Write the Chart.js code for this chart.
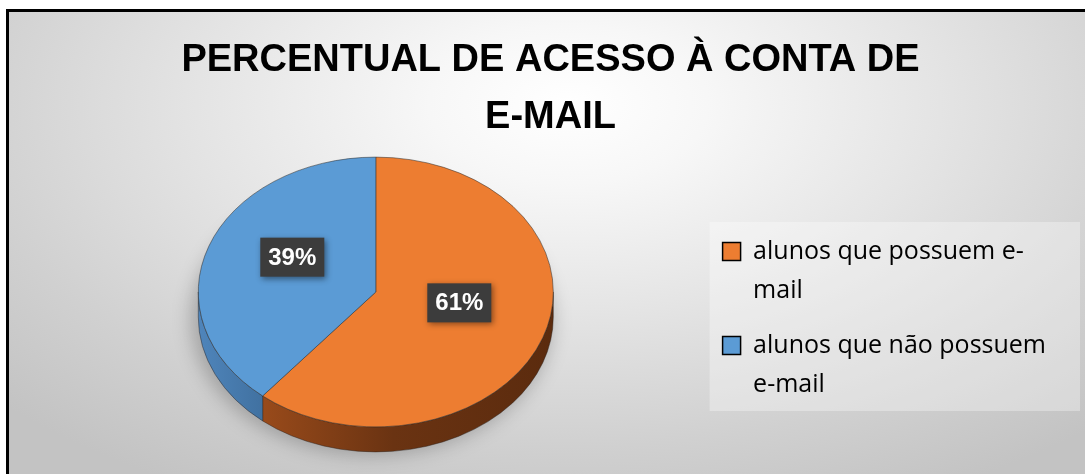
<!DOCTYPE html>
<html>
<head>
<meta charset="utf-8">
<script src="https://cdn.jsdelivr.net/npm/chart.js@4/dist/chart.umd.min.js"></script>
<style>
  html, body { margin: 0; padding: 0; background: #ffffff; width: 1087px; height: 474px; overflow: hidden; }
  #frame {
    position: absolute; left: 6px; top: 9px; width: 1079px; height: 465px;
    box-sizing: border-box; border-top: 3px solid #000; border-left: 3px solid #000;
    background: radial-gradient(ellipse 72% 95% at 52% 20%, #ffffff 0%, #f7f7f7 18%, #e4e4e4 48%, #d0d0d0 78%, #c3c3c3 100%);
  }
  #wrap { position: absolute; left: 0; top: 0; width: 1087px; height: 474px; }
</style>
</head>
<body>
<div id="frame"></div>
<div id="wrap"><canvas id="c" width="1087" height="474"></canvas></div>
<script>
// ---- data ----
const categories = ['alunos que possuem e-mail', 'alunos que não possuem e-mail'];
const legendLines = [['alunos que possuem e-', 'mail'], ['alunos que não possuem', 'e-mail']];
const percentValues = [61, 39];
const titleLines = ['PERCENTUAL DE ACESSO À CONTA DE', 'E-MAIL'];
const sliceColors = ['#ED7D31', '#5B9BD5'];
const sideStops = [
  ['#b35a1f', '#96491a', '#6a3312', '#5b2b0e'],
  ['#4f85bb', '#3f6f9e', '#35608a', '#2f5575']
];

// ---- 3D look ----
const TILT = 0.76;
const DEPTH = 25;
const LABEL_LIFT = 12;

const pie3d = {
  id: 'pie3d',
  beforeDraw(chart) {
    const lg = chart.legend;
    if (!lg || !lg.legendHitBoxes || !lg.legendHitBoxes.length) return;
    const hb = lg.legendHitBoxes;
    const ctx = chart.ctx;
    const top = hb[0].top - 17;
    const bottom = hb[hb.length - 1].top + hb[hb.length - 1].height;
    ctx.save();
    ctx.fillStyle = 'rgba(255,255,255,0.32)';
    ctx.fillRect(lg.left + 3, top, 1080 - (lg.left + 3), bottom - top);
    ctx.restore();
  },
  beforeDatasetsDraw(chart) {
    const ctx = chart.ctx;
    const arcs = chart.getDatasetMeta(0).data;
    const cx = arcs[0].x, cy = arcs[0].y, r = arcs[0].outerRadius;
    const ry = r * TILT;
    // soft shadow
    ctx.save();
    ctx.filter = 'blur(9px)';
    ctx.fillStyle = 'rgba(0,0,0,0.22)';
    ctx.beginPath();
    ctx.ellipse(cx - 4, cy + DEPTH + 2, r + 4, ry + 2, 0, 0, Math.PI * 2);
    ctx.fill();
    ctx.restore();
    // side walls
    arcs.forEach((arc, i) => {
      const a0 = arc.startAngle, a1 = arc.endAngle;
      for (let k = -1; k <= 1; k++) {
        const s = Math.max(a0, k * 2 * Math.PI);
        const e = Math.min(a1, k * 2 * Math.PI + Math.PI);
        if (e <= s) continue;
        const g = ctx.createLinearGradient(cx - r, 0, cx + r, 0);
        const st = sideStops[i];
        g.addColorStop(0, st[0]); g.addColorStop(0.2, st[1]); g.addColorStop(0.55, st[2]); g.addColorStop(1, st[3]);
        ctx.save();
        ctx.beginPath();
        ctx.ellipse(cx, cy, r, ry, 0, s, e, false);
        ctx.lineTo(cx + r * Math.cos(e), cy + ry * Math.sin(e) + DEPTH);
        ctx.ellipse(cx, cy + DEPTH, r, ry, 0, e, s, true);
        ctx.closePath();
        ctx.fillStyle = g;
        ctx.fill();
        ctx.strokeStyle = 'rgba(40,30,25,0.55)';
        ctx.lineWidth = 0.8;
        ctx.stroke();
        ctx.restore();
      }
    });
    // squash the top face
    ctx.save();
    ctx.translate(0, cy);
    ctx.scale(1, TILT);
    ctx.translate(0, -cy);
  },
  afterDatasetsDraw(chart) {
    const ctx = chart.ctx;
    ctx.restore();
    const arcs = chart.getDatasetMeta(0).data;
    arcs.forEach((arc, i) => {
      const mid = (arc.startAngle + arc.endAngle) / 2;
      const rr = arc.outerRadius * 0.5;
      const px = arc.x + rr * Math.cos(mid);
      const py = arc.y + rr * TILT * Math.sin(mid) - LABEL_LIFT;
      const txt = percentValues[i] + '%';
      const w = 64, h = 39;
      ctx.save();
      ctx.shadowColor = 'rgba(0,0,0,0.45)';
      ctx.shadowBlur = 6;
      ctx.shadowOffsetX = 2;
      ctx.shadowOffsetY = 2;
      ctx.fillStyle = '#3c3c3c';
      ctx.fillRect(px - w / 2, py - h / 2, w, h);
      ctx.restore();
      ctx.save();
      ctx.fillStyle = '#ffffff';
      ctx.font = 'bold 24px "Liberation Sans", Arial, sans-serif';
      ctx.textAlign = 'center';
      ctx.textBaseline = 'middle';
      ctx.fillText(txt, px, py + 1);
      ctx.restore();
    });
  }
};

const chart = new Chart(document.getElementById('c'), {
  type: 'pie',
  data: {
    labels: categories,
    datasets: [{
      data: percentValues,
      backgroundColor: sliceColors,
      borderColor: 'rgba(45,45,45,0.6)',
      borderWidth: 1,
      hoverOffset: 0,
      clip: false
    }]
  },
  options: {
    responsive: false,
    animation: false,
    devicePixelRatio: 1,
    layout: { padding: { top: 0, left: 45, right: 31, bottom: 4 } },
    plugins: {
      title: {
        display: true,
        text: titleLines,
        color: '#000000',
        font: { family: '"Liberation Sans", Arial, sans-serif', size: 38, weight: 'bold', lineHeight: '57px' },
        padding: { top: 32, bottom: -32 }
      },
      legend: {
        position: 'right',
        fullSize: false,
        align: 'center',
        title: { display: true, text: '', font: { size: 10, lineHeight: 1 }, padding: { top: 56, bottom: 0 } },
        labels: {
          boxWidth: 18,
          boxHeight: 18,
          padding: 16,
          color: '#000000',
          font: { family: '"Open Sans", sans-serif', size: 25, lineHeight: '39px' },
          generateLabels: (ch) => legendLines.map((lines, i) => ({
            text: lines,
            fillStyle: sliceColors[i],
            strokeStyle: '#000000',
            lineWidth: 1.5,
            fontColor: '#000000',
            hidden: false,
            index: i
          }))
        }
      },
      tooltip: { enabled: false }
    }
  },
  plugins: [pie3d]
});
</script>
</body>
</html>
